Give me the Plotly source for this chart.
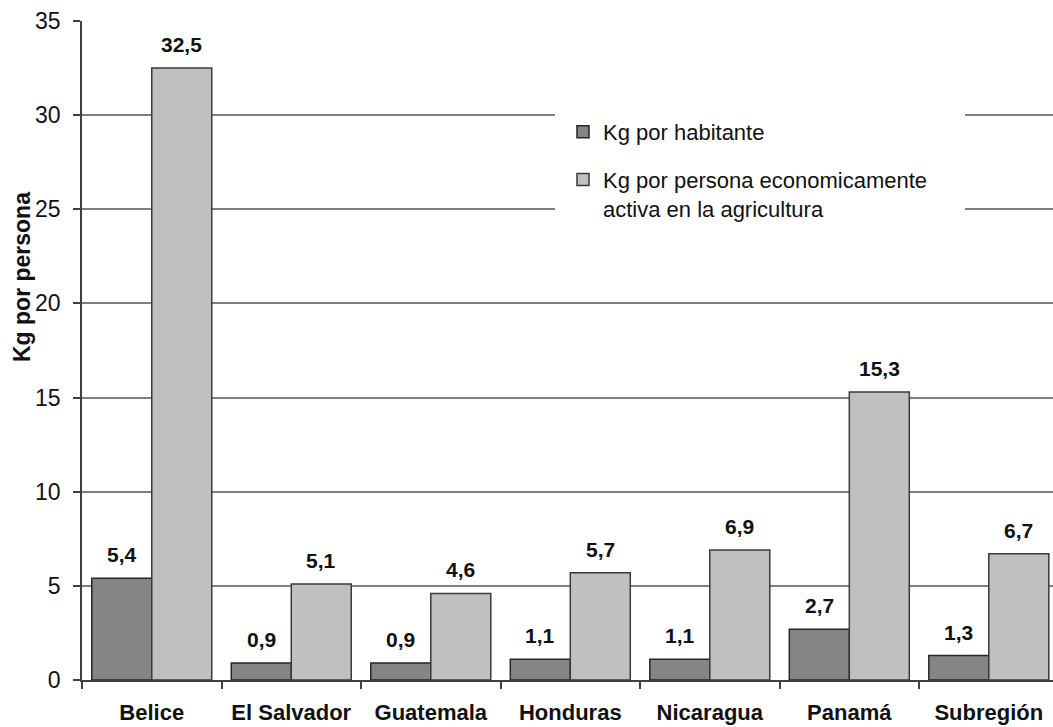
import plotly.graph_objects as go

paises = ["Belice", "El Salvador", "Guatemala", "Honduras", "Nicaragua", "Panamá", "Subregión"]
kg_habitante = [5.4, 0.9, 0.9, 1.1, 1.1, 2.7, 1.3]
kg_pea_agricola = [32.5, 5.1, 4.6, 5.7, 6.9, 15.3, 6.7]
etiquetas_habitante = ["5,4", "0,9", "0,9", "1,1", "1,1", "2,7", "1,3"]
etiquetas_pea = ["32,5", "5,1", "4,6", "5,7", "6,9", "15,3", "6,7"]
y_ticks = [0, 5, 10, 15, 20, 25, 30, 35]

FONT = "Liberation Sans, Arial, sans-serif"
W, H = 1053, 727
L, R, T, B = 82, 0, 21, 47
PW, PH = W - L - R, H - T - B
X_RANGE = [-0.5, 6.46]
BARGAP = 0.14


def px_x(x):
    return (x - L) / PW


def px_y(y):
    return (H - B - y) / PH


fig = go.Figure()
fig.add_trace(go.Bar(
    x=paises, y=kg_habitante, name="Kg por habitante", legendgroup="a",
    marker=dict(color="#858585", line=dict(color="#262626", width=1.5)),
))
fig.add_trace(go.Bar(
    x=paises, y=kg_pea_agricola,
    name="Kg por persona economicamente<br>activa en la agricultura", legendgroup="b",
    marker=dict(color="#c0c0c0", line=dict(color="#3a3a3a", width=1.5)),
))

# value labels above each bar, offset to the bar's slot in the group
cat_px = PW / (X_RANGE[1] - X_RANGE[0])
bar_px = (1 - BARGAP) / 2 * cat_px
for serie, etiquetas, dx in ((kg_habitante, etiquetas_habitante, -bar_px / 2),
                            (kg_pea_agricola, etiquetas_pea, bar_px / 2)):
    for pais, v, t in zip(paises, serie, etiquetas):
        fig.add_annotation(x=pais, y=v, xref="x", yref="y", text=f"<b>{t}</b>",
                           showarrow=False, xshift=dx, yshift=10,
                           yanchor="bottom", xanchor="center",
                           font=dict(family=FONT, size=21, color="#111111"))

# white panel behind the legend, covering the gridlines
fig.add_shape(type="rect", xref="paper", yref="paper",
              x0=px_x(555), x1=px_x(965), y0=px_y(232), y1=px_y(100),
              fillcolor="white", line=dict(width=0), layer="above")

fig.add_annotation(text="<b>Kg por persona</b>", textangle=-90,
                   xref="paper", yref="paper", x=px_x(22), y=px_y(277),
                   xanchor="center", yanchor="middle", showarrow=False,
                   font=dict(family=FONT, size=23, color="#111111"))

fig.update_layout(
    width=W, height=H,
    margin=dict(l=L, r=R, t=T, b=B, autoexpand=False),
    paper_bgcolor="white", plot_bgcolor="white",
    barmode="group", bargap=BARGAP, bargroupgap=0,
    font=dict(family=FONT, color="#111111"),
    showlegend=True,
    legend=dict(x=px_x(563), y=px_y(111), xanchor="left", yanchor="top",
                bgcolor="rgba(0,0,0,0)", borderwidth=0,
                font=dict(family=FONT, size=22, color="#111111"),
                traceorder="grouped", tracegroupgap=16, valign="top"),
    xaxis=dict(type="category", range=X_RANGE,
               showline=True, linecolor="#404040", linewidth=1.5,
               ticks="outside", tickson="boundaries", ticklen=7,
               tickcolor="#404040", tickwidth=1.5, tickangle=0,
               ticklabelstandoff=12,
               tickfont=dict(family=FONT, size=22, color="#111111", weight="bold"),
               showgrid=False),
    yaxis=dict(range=[0, 35], tickvals=y_ticks, ticktext=[str(v) for v in y_ticks],
               showline=True, linecolor="#404040", linewidth=1.5,
               ticks="outside", ticklen=7, tickcolor="#404040", tickwidth=1.5,
               ticklabelstandoff=8,
               tickfont=dict(family=FONT, size=23, color="#111111"),
               showgrid=True, gridcolor="#7f7f7f", gridwidth=1.5,
               zeroline=False),
)

fig.write_html("out.html")
